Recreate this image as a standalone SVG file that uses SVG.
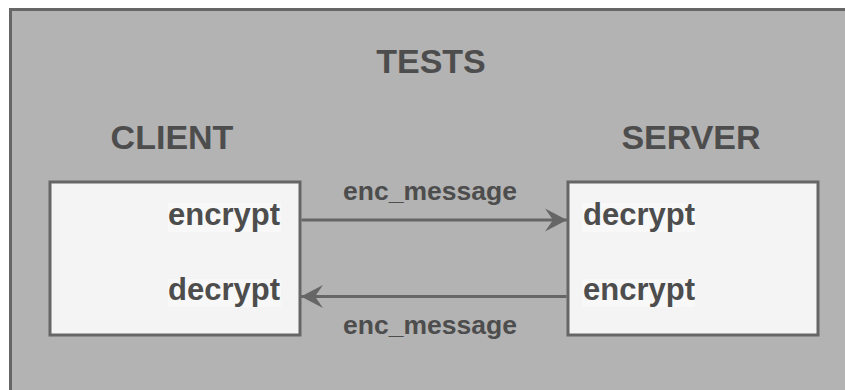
<svg xmlns="http://www.w3.org/2000/svg" width="845" height="390" viewBox="0 0 845 390">
  <defs>
    <style>
      .frame { fill: #b3b3b3; stroke: #666666; stroke-width: 3; }
      .box { fill: #f4f4f4; stroke: #666666; stroke-width: 3; }
      .txtbg { fill: #f8f8f8; }
      .title { font-family: "Liberation Sans", Arial, sans-serif; font-weight: bold; font-size: 34px; fill: #4d4d4d; }
      .method { font-family: "Liberation Sans", Arial, sans-serif; font-weight: bold; font-size: 31px; fill: #4d4d4d; }
      .label { font-family: "Liberation Sans", Arial, sans-serif; font-weight: bold; font-size: 26.5px; fill: #4d4d4d; }
      .wire { fill: none; stroke: #666666; stroke-width: 3; }
    </style>
    <marker id="arrow" markerUnits="userSpaceOnUse" markerWidth="24" markerHeight="26" viewBox="0 0 24 26" refX="22" refY="13" orient="auto">
      <path d="M0,1.5 L22,13 L0,24.5 L8,13 Z" fill="#666666"/>
    </marker>
  </defs>

  <rect width="845" height="390" fill="#ffffff"/>

  <!-- outer container -->
  <g id="tests">
    <rect class="frame" x="10.5" y="9.5" width="900" height="500"/>
    <text class="title" x="431" y="73" text-anchor="middle">TESTS</text>
  </g>

  <!-- client -->
  <g id="client">
    <text class="title" x="172" y="149" text-anchor="middle">CLIENT</text>
    <rect class="box" x="50" y="182" width="250" height="153"/>
    <rect class="txtbg" x="168" y="203" width="113" height="29"/>
    <text class="method" x="280" y="225" text-anchor="end">encrypt</text>
    <rect class="txtbg" x="168" y="279" width="113" height="28"/>
    <text class="method" x="280" y="300" text-anchor="end">decrypt</text>
  </g>

  <!-- server -->
  <g id="server">
    <text class="title" x="691" y="149" text-anchor="middle">SERVER</text>
    <rect class="box" x="568" y="182" width="250" height="153"/>
    <rect class="txtbg" x="582" y="203" width="113" height="29"/>
    <text class="method" x="583" y="225">decrypt</text>
    <rect class="txtbg" x="582" y="279" width="113" height="28"/>
    <text class="method" x="583" y="300">encrypt</text>
  </g>

  <!-- message flow -->
  <g id="connectors">
    <line class="wire" x1="301.5" y1="220" x2="567" y2="220" marker-end="url(#arrow)"/>
    <text class="label" x="430" y="200" text-anchor="middle">enc_message</text>
    <line class="wire" x1="566.5" y1="296.5" x2="301" y2="296.5" marker-end="url(#arrow)"/>
    <text class="label" x="430" y="334" text-anchor="middle">enc_message</text>
  </g>
</svg>
